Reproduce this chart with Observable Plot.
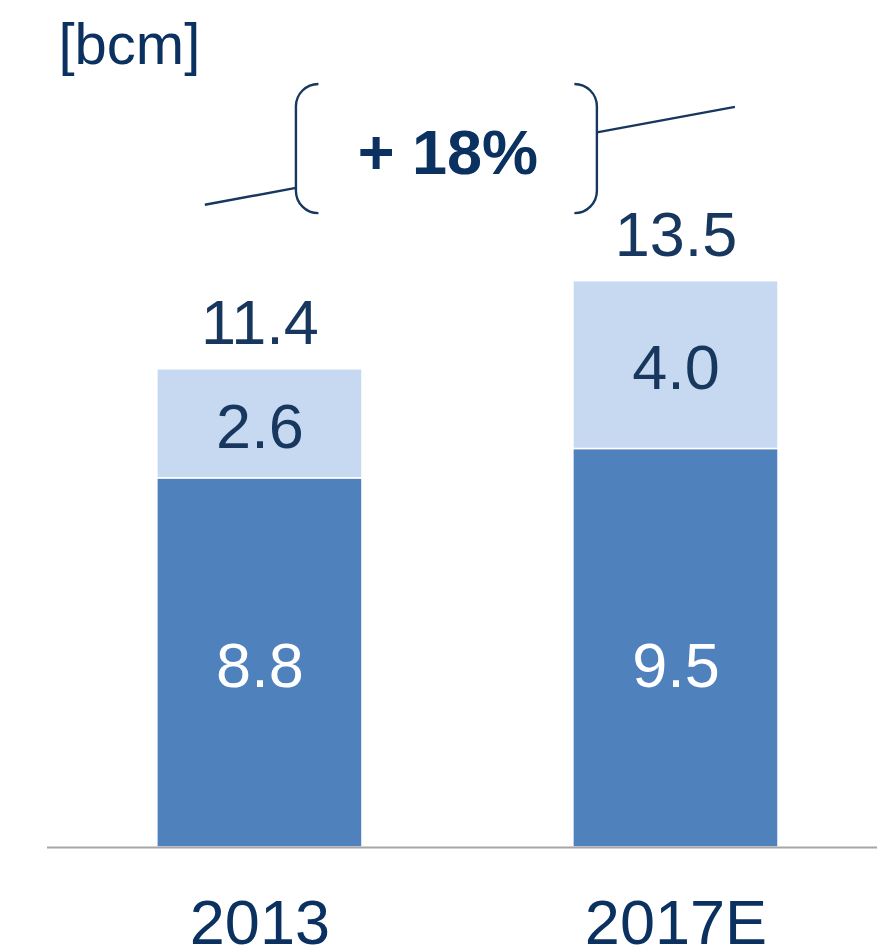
<!DOCTYPE html>
<html>
<head>
<meta charset="utf-8">
<script src="https://cdn.jsdelivr.net/npm/d3@7"></script>
<script src="https://cdn.jsdelivr.net/npm/@observablehq/plot@0.6"></script>
<style>
  html, body { margin: 0; padding: 0; background: #fff; }
  #chart svg { display: block; }
</style>
</head>
<body>
<div id="chart"></div>
<script>
// Volumes per year, in bcm
const years = ["2013", "2017E"];
const segments = ["base", "additional"];
const baseValues = [8.8, 9.5];
const additionalValues = [2.6, 4.0];
const unitLabel = "[bcm]";

// Growth annotation: line levels (bcm) at the two bar centres and bracket box span
const growthLineLevels = [15.55, 17.38];
const growthBoxLevels = [15.11, 18.19];

const navy = "#17375E";
const axisNavy = "#0B3160";
const fontFamily = "Arial, 'Liberation Sans', Helvetica, sans-serif";

// Stacked table built from the value arrays
const rows = [];
const totals = [];
years.forEach((year, i) => {
  const b = baseValues[i], a = additionalValues[i];
  rows.push({year, segment: "base", y1: 0, y2: b, value: b});
  rows.push({year, segment: "additional", y1: b, y2: +(b + a).toFixed(1), value: a});
  totals.push({year, total: +(b + a).toFixed(1)});
});
const growthPct = Math.round((totals[1].total / totals[0].total - 1) * 100);
// Base-segment labels share one level: the middle of the lower base bar
const baseLabelLevel = Math.min(...baseValues) / 2;

const chart = Plot.plot({
  width: 877,
  height: 952,
  marginTop: 8,
  marginBottom: 105,
  marginLeft: 47,
  marginRight: 0,
  style: {fontFamily, background: "white"},
  x: {domain: years, paddingInner: 0.507, paddingOuter: 0.251, align: 0.526, round: false},
  y: {domain: [0, 20], axis: null},
  color: {domain: segments, range: ["#4F81BD", "#C6D9F1"]},
  marks: [
    Plot.barY(rows, {x: "year", y1: "y1", y2: "y2", fill: "segment", stroke: "white", strokeWidth: 1.5}),
    Plot.ruleY([0], {stroke: "#A6A6A6", strokeWidth: 2}),
    Plot.text(rows.filter(d => d.segment === "base"), {
      x: "year", y: () => baseLabelLevel, text: d => d.value.toFixed(1),
      fill: "white", fontSize: 63, dy: 4
    }),
    Plot.text(rows.filter(d => d.segment === "additional"), {
      x: "year", y: d => (d.y1 + d.y2) / 2, text: d => d.value.toFixed(1),
      fill: navy, fontSize: 63, dy: 4
    }),
    Plot.text(totals, {
      x: "year", y: "total", text: d => d.total.toFixed(1),
      fill: navy, fontSize: 63, dy: -45
    }),
    Plot.text([unitLabel], {
      frameAnchor: "top-left", text: d => d, textAnchor: "start", lineAnchor: "top",
      dx: 11, dy: 14, fontSize: 58, fill: axisNavy
    }),
    Plot.axisX({tickSize: 0, tickPadding: 52, fontSize: 63, color: axisNavy, label: null})
  ]
});

// Growth annotation drawn with the chart's own scales
const sx = chart.scale("x"), sy = chart.scale("y");
const bw = sx.bandwidth;
const cx = years.map(yr => sx.apply(yr) + bw / 2);
const ly = growthLineLevels.map(v => sy.apply(v));
const lineAt = px => ly[0] + (ly[1] - ly[0]) * (px - cx[0]) / (cx[1] - cx[0]);

const lineStart = cx[0] - 0.266 * bw;
const lineEnd = cx[1] + 0.29 * bw;
const boxL = cx[0] + 0.178 * bw;
const boxR = cx[1] - 0.383 * bw;
const boxT = sy.apply(growthBoxLevels[1]);
const boxB = sy.apply(growthBoxLevels[0]);
const r = 22.5;

const g = d3.select(chart).append("g")
  .attr("fill", "none")
  .attr("stroke", navy)
  .attr("stroke-width", 2.4);

g.append("line")
  .attr("x1", lineStart).attr("y1", lineAt(lineStart))
  .attr("x2", boxL).attr("y2", lineAt(boxL));
g.append("line")
  .attr("x1", boxR).attr("y1", lineAt(boxR))
  .attr("x2", lineEnd).attr("y2", lineAt(lineEnd));

g.append("path").attr("d",
  `M${boxL + r},${boxT} A${r},${r} 0 0 0 ${boxL},${boxT + r} L${boxL},${boxB - r} A${r},${r} 0 0 0 ${boxL + r},${boxB}`);
g.append("path").attr("d",
  `M${boxR - r},${boxT} A${r},${r} 0 0 1 ${boxR},${boxT + r} L${boxR},${boxB - r} A${r},${r} 0 0 1 ${boxR - r},${boxB}`);

d3.select(chart).append("text")
  .attr("x", (boxL + boxR) / 2 + 1.5)
  .attr("y", (boxT + boxB) / 2 + 25.5)
  .attr("text-anchor", "middle")
  .attr("font-family", fontFamily)
  .attr("font-weight", "bold")
  .attr("font-size", 63)
  .attr("fill", axisNavy)
  .text(`+ ${growthPct}%`);

document.getElementById("chart").appendChild(chart);
</script>
</body>
</html>
